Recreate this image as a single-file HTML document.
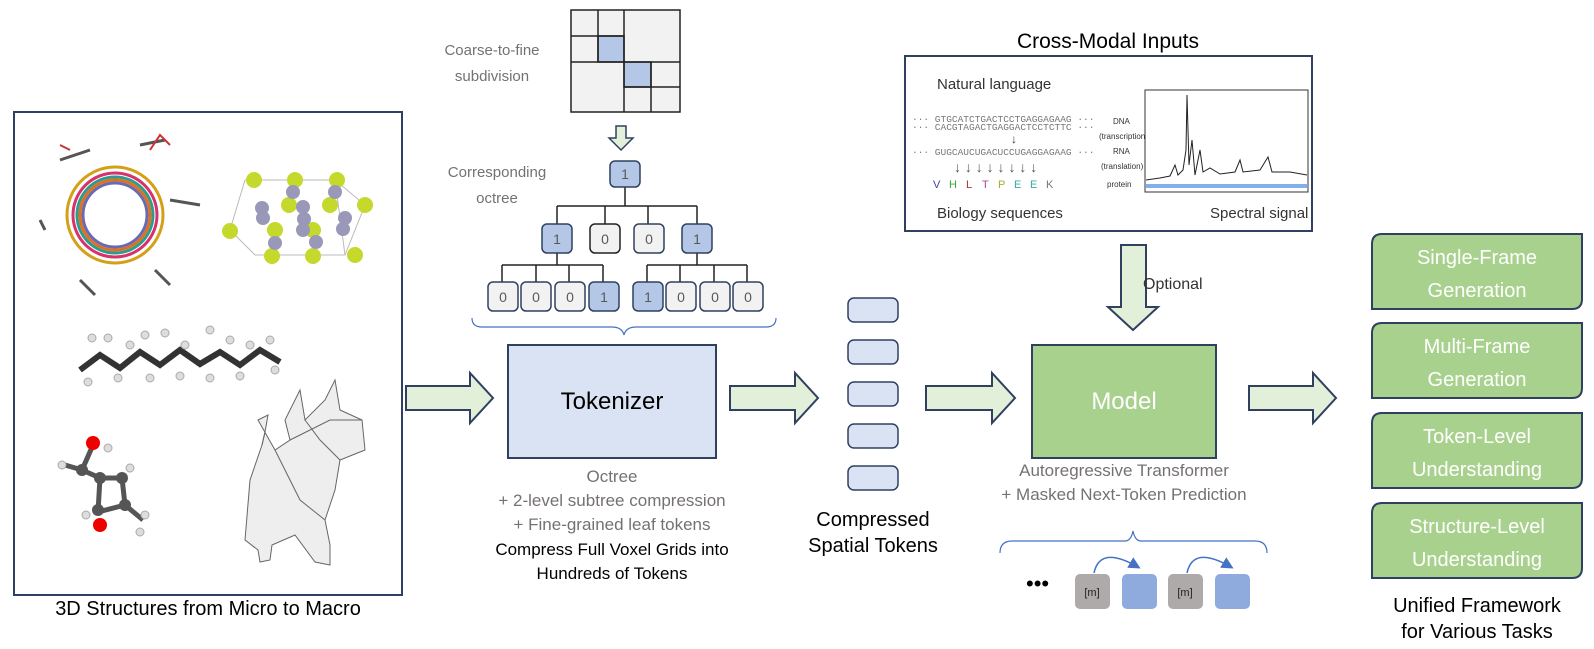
<!DOCTYPE html>
<html><head><meta charset="utf-8"><style>
body{margin:0;background:#fff;}
svg{display:block;font-family:"Liberation Sans",Calibri,sans-serif;}
</style></head><body>
<svg width="1594" height="649" viewBox="0 0 1594 649" xmlns="http://www.w3.org/2000/svg">
<defs>
<marker id="ah" markerWidth="8" markerHeight="8" refX="6" refY="4" orient="auto"><path d="M0,0 L8,4 L0,8 z" fill="#4472c4"/></marker>
</defs>
<!-- left panel -->
<rect x="14" y="112" width="388" height="483" fill="#fff" stroke="#2f4060" stroke-width="2"/>
<g fill="none" stroke-width="3">
<circle cx="115" cy="215" r="48" stroke="#d4a017"/>
<circle cx="115" cy="215" r="42" stroke="#d6336c"/>
<circle cx="115" cy="215" r="38" stroke="#2a9d8f"/>
<circle cx="115" cy="215" r="35" stroke="#e07020"/>
<circle cx="115" cy="215" r="32" stroke="#6a6ab0"/>
<path d="M60 160 L90 150 M140 145 L165 140 M170 200 L200 205 M155 270 L170 285 M80 280 L95 295 M45 230 L40 220" stroke="#555"/>
</g>
<g stroke="#c33" stroke-width="2" fill="none"><path d="M150 150l10-15 10 10"/><path d="M70 150l-10 -5"/></g>
<g stroke="#bbb" fill="none"><path d="M245 180 L335 180 L365 205 L345 255 L255 255 L230 230 Z M245 180 L230 230 M335 180 L345 255"/></g>
<g fill="#c5d92c"><circle cx="254" cy="180" r="8"/><circle cx="295" cy="180" r="8"/><circle cx="337" cy="180" r="8"/><circle cx="365" cy="205" r="8"/><circle cx="230" cy="231" r="8"/><circle cx="289" cy="205" r="8"/><circle cx="330" cy="205" r="8"/><circle cx="275" cy="230" r="8"/><circle cx="313" cy="230" r="8"/><circle cx="272" cy="256" r="8"/><circle cx="313" cy="256" r="8"/><circle cx="355" cy="255" r="8"/></g>
<g fill="#9a98b8"><circle cx="293" cy="192" r="7"/><circle cx="335" cy="192" r="7"/><circle cx="262" cy="208" r="7"/><circle cx="263" cy="218" r="7"/><circle cx="303" cy="207" r="7"/><circle cx="304" cy="219" r="7"/><circle cx="303" cy="230" r="7"/><circle cx="345" cy="218" r="7"/><circle cx="343" cy="229" r="7"/><circle cx="275" cy="243" r="7"/><circle cx="316" cy="242" r="7"/></g>
<polyline points="80,370 100,355 120,368 140,352 160,365 180,350 200,364 220,352 240,365 260,350 280,362" fill="none" stroke="#333" stroke-width="6"/>
<g fill="#ddd" stroke="#aaa"><circle cx="92" cy="338" r="4"/><circle cx="108" cy="338" r="4"/><circle cx="130" cy="345" r="4"/><circle cx="145" cy="335" r="4"/><circle cx="165" cy="333" r="4"/><circle cx="185" cy="345" r="4"/><circle cx="210" cy="330" r="4"/><circle cx="230" cy="340" r="4"/><circle cx="250" cy="345" r="4"/><circle cx="270" cy="340" r="4"/><circle cx="88" cy="382" r="4"/><circle cx="118" cy="378" r="4"/><circle cx="150" cy="378" r="4"/><circle cx="180" cy="376" r="4"/><circle cx="210" cy="378" r="4"/><circle cx="240" cy="376" r="4"/><circle cx="275" cy="370" r="4"/></g>
<g stroke="#555" stroke-width="5" fill="none"><path d="M93 445 L82 470 L100 478 L98 512 L125 505 L122 478 L100 478 M125 505 L143 520 M82 470 L65 465"/></g>
<circle cx="93" cy="443" r="7" fill="#e00"/><circle cx="100" cy="525" r="7" fill="#e00"/>
<g fill="#555"><circle cx="82" cy="470" r="6"/><circle cx="100" cy="478" r="6"/><circle cx="98" cy="510" r="6"/><circle cx="125" cy="505" r="6"/><circle cx="122" cy="478" r="6"/></g>
<g fill="#ddd" stroke="#aaa"><circle cx="108" cy="448" r="4"/><circle cx="62" cy="465" r="4"/><circle cx="130" cy="468" r="4"/><circle cx="145" cy="515" r="4"/><circle cx="140" cy="532" r="4"/><circle cx="86" cy="515" r="4"/></g>
<g fill="#eee" stroke="#666" stroke-width="1"><path d="M258 420 L268 415 L265 432 L262 445 L250 480 L245 540 L258 550 L260 562 L270 560 L272 545 L295 535 L315 562 L330 565 L330 545 L325 520 L335 490 L340 460 L365 450 L362 420 L340 410 L335 380 L325 400 L305 420 L300 390 L285 420 L290 440 L275 450 Z"/><path d="M290 440 L330 420 L362 420 M305 420 L320 440 L340 460 M275 450 L300 500 L325 520 M265 432 L262 445"/></g>
<text x="208" y="615" font-size="20" text-anchor="middle" fill="#000">3D Structures from Micro to Macro</text>
<!-- grid -->
<g stroke="#222" stroke-width="1.5" fill="#f2f2f2">
<rect x="571" y="10" width="109" height="102"/>
<rect x="598" y="36" width="26" height="26" fill="#b4c7e7"/>
<rect x="624" y="62" width="27" height="25" fill="#b4c7e7"/>
</g>
<g stroke="#222" stroke-width="1.5"><path d="M571 36H624M571 62H680M598 10V62M624 10V112M651 62V112M624 87H680"/></g>
<text x="492" y="55" font-size="15" fill="#767171" text-anchor="middle">Coarse-to-fine</text>
<text x="492" y="81" font-size="15" fill="#767171" text-anchor="middle">subdivision</text>
<path d="M616 126 h10 v12 h7 l-12 12 -12 -12 h7 z" fill="#e2f0d9" stroke="#2f4060" stroke-width="1.5"/>
<text x="497" y="177" font-size="15" fill="#767171" text-anchor="middle">Corresponding</text>
<text x="497" y="203" font-size="15" fill="#767171" text-anchor="middle">octree</text>
<g stroke="#222" stroke-width="1.5" fill="none">
<path d="M625 186V206M557 206H697M557 206V226M605 206V226M648 206V226M697 206V226M557 253V265M502 265H603M502 265V284M536 265V284M569 265V284M603 265V284M697 253V265M647 265H747M647 265V284M680 265V284M714 265V284M747 265V284"/>
</g>
<g stroke="#2f4060" stroke-width="1.5" font-size="14">
<rect x="610" y="161" width="30" height="26" rx="5" fill="#b4c7e7"/>
<rect x="542" y="224" width="30" height="29" rx="5" fill="#b4c7e7"/>
<rect x="590" y="224" width="30" height="29" rx="5" fill="#f2f2f2" stroke="#222"/>
<rect x="634" y="224" width="30" height="29" rx="5" fill="#f2f2f2"/>
<rect x="682" y="224" width="30" height="29" rx="5" fill="#b4c7e7"/>
<rect x="488" y="282" width="30" height="29" rx="5" fill="#f2f2f2"/>
<rect x="521" y="282" width="30" height="29" rx="5" fill="#f2f2f2"/>
<rect x="555" y="282" width="30" height="29" rx="5" fill="#f2f2f2"/>
<rect x="589" y="282" width="30" height="29" rx="5" fill="#b4c7e7"/>
<rect x="633" y="282" width="30" height="29" rx="5" fill="#b4c7e7"/>
<rect x="666" y="282" width="30" height="29" rx="5" fill="#f2f2f2"/>
<rect x="700" y="282" width="30" height="29" rx="5" fill="#f2f2f2"/>
<rect x="733" y="282" width="30" height="29" rx="5" fill="#f2f2f2"/>
</g>
<g font-size="14" fill="#595959" text-anchor="middle">
<text x="625" y="179">1</text><text x="557" y="244">1</text><text x="605" y="244">0</text><text x="649" y="244">0</text><text x="697" y="244">1</text>
<text x="503" y="302">0</text><text x="536" y="302">0</text><text x="570" y="302">0</text><text x="604" y="302">1</text><text x="648" y="302">1</text><text x="681" y="302">0</text><text x="715" y="302">0</text><text x="748" y="302">0</text>
</g>
<path d="M472 318 q0 9 10 9 h130 q10 0 12 8 q2 -8 12 -8 h130 q10 0 10 -9" fill="none" stroke="#4472c4" stroke-width="1.2"/>
<rect x="508" y="345" width="208" height="113" fill="#dae3f3" stroke="#2f4060" stroke-width="2"/>
<text x="612" y="409" font-size="24" text-anchor="middle" fill="#000">Tokenizer</text>
<g font-size="17" fill="#767171" text-anchor="middle">
<text x="612" y="482">Octree</text>
<text x="612" y="506">+ 2-level subtree compression</text>
<text x="612" y="530">+ Fine-grained leaf tokens</text>
</g>
<text x="612" y="555" font-size="17" text-anchor="middle" fill="#000">Compress Full Voxel Grids into</text>
<text x="612" y="579" font-size="17" text-anchor="middle" fill="#000">Hundreds of Tokens</text>
<!-- big arrows -->
<g fill="#e2f0d9" stroke="#2f4060" stroke-width="2">
<path d="M406 386 H470 V373 L493 398 L470 423 V410 H406 Z"/>
<path d="M730 386 H795 V373 L818 398 L795 423 V410 H730 Z"/>
<path d="M926 386 H992 V373 L1015 398 L992 423 V410 H926 Z"/>
<path d="M1249 386 H1313 V373 L1336 398 L1313 423 V410 H1249 Z"/>
<path d="M1121 245 H1146 V307 H1158 L1133 330 L1108 307 H1121 Z"/>
</g>
<!-- tokens -->
<g fill="#dae3f3" stroke="#2f4060" stroke-width="1.5">
<rect x="848" y="298" width="50" height="24" rx="6"/><rect x="848" y="340" width="50" height="24" rx="6"/><rect x="848" y="382" width="50" height="24" rx="6"/><rect x="848" y="424" width="50" height="24" rx="6"/><rect x="848" y="466" width="50" height="24" rx="6"/>
</g>
<text x="873" y="526" font-size="20" text-anchor="middle" fill="#000">Compressed</text>
<text x="873" y="552" font-size="20" text-anchor="middle" fill="#000">Spatial Tokens</text>
<!-- cross modal -->
<text x="1108" y="48" font-size="21" text-anchor="middle" fill="#000">Cross-Modal Inputs</text>
<rect x="905" y="56" width="407" height="175" fill="#fff" stroke="#2f4060" stroke-width="2"/>
<text x="937" y="89" font-size="15" fill="#333">Natural language</text>
<g font-family="Liberation Mono,monospace" font-size="9.5" fill="#777">
<text x="912" y="122">··· GTGCATCTGACTCCTGAGGAGAAG ···</text>
<text x="912" y="130">··· CACGTAGACTGAGGACTCCTCTTC ···</text>
<text x="912" y="155">··· GUGCAUCUGACUCCUGAGGAGAAG ···</text>
</g>
<text x="1011" y="143" font-size="12" fill="#333">↓</text>
<g font-size="14" fill="#555"><text x="954" y="172">↓ ↓ ↓ ↓ ↓ ↓ ↓ ↓</text></g>
<g font-size="11"><text x="933" y="188" fill="#4040a0">V</text><text x="949" y="188" fill="#3a3">H</text><text x="966" y="188" fill="#a33">L</text><text x="982" y="188" fill="#a4a">T</text><text x="998" y="188" fill="#aa3">P</text><text x="1014" y="188" fill="#3aa">E</text><text x="1030" y="188" fill="#3aa">E</text><text x="1046" y="188" fill="#777">K</text></g>
<g font-size="8" fill="#333"><text x="1113" y="124">DNA</text><text x="1099" y="139">(transcription)</text><text x="1113" y="154">RNA</text><text x="1101" y="169">(translation)</text><text x="1107" y="187">protein</text></g>
<text x="937" y="218" font-size="15" fill="#333">Biology sequences</text>
<rect x="1145" y="90" width="163" height="102" fill="#fff" stroke="#333" stroke-width="1"/>
<polyline points="1146,180 1160,178 1170,176 1175,165 1178,175 1183,170 1186,150 1187,95 1189,165 1192,140 1195,175 1200,150 1203,172 1210,168 1220,174 1235,172 1240,160 1243,172 1260,170 1268,157 1272,172 1290,172 1307,175" fill="none" stroke="#222" stroke-width="1"/>
<rect x="1146" y="184" width="161" height="4" fill="#4a90e2" opacity="0.7"/>
<text x="1210" y="218" font-size="15" fill="#333">Spectral signal</text>
<text x="1143" y="289" font-size="16" fill="#333">Optional</text>
<!-- model -->
<rect x="1032" y="345" width="184" height="113" fill="#a9d18e" stroke="#2f4060" stroke-width="2"/>
<text x="1124" y="409" font-size="24" text-anchor="middle" fill="#fff">Model</text>
<g font-size="17" fill="#767171" text-anchor="middle"><text x="1124" y="476">Autoregressive Transformer</text><text x="1124" y="500">+ Masked Next-Token Prediction</text></g>
<path d="M1000 553 q0 -12 12 -12 h113 q6 0 8 -10 q2 10 8 10 h114 q12 0 12 12" fill="none" stroke="#4472c4" stroke-width="1.2"/>
<text x="1026" y="591" font-size="22" fill="#000">•••</text>
<rect x="1075" y="574" width="35" height="35" rx="5" fill="#aeaaaa"/>
<rect x="1122" y="574" width="35" height="35" rx="5" fill="#8faadc"/>
<rect x="1168" y="574" width="35" height="35" rx="5" fill="#aeaaaa"/>
<rect x="1215" y="574" width="35" height="35" rx="5" fill="#8faadc"/>
<text x="1092" y="596" font-size="11" text-anchor="middle" fill="#222">[m]</text>
<text x="1185" y="596" font-size="11" text-anchor="middle" fill="#222">[m]</text>
<path d="M1094 573 Q1100 545 1138 567" fill="none" stroke="#4472c4" stroke-width="1.5" marker-end="url(#ah)"/>
<path d="M1187 573 Q1193 545 1231 567" fill="none" stroke="#4472c4" stroke-width="1.5" marker-end="url(#ah)"/>
<!-- outputs -->
<g fill="#a9d18e" stroke="#2f4060" stroke-width="2">
<path d="M1382 234 H1582 V299 Q1582 309 1572 309 H1372 V244 Q1372 234 1382 234 Z"/>
<path d="M1382 323 H1582 V388 Q1582 398 1572 398 H1372 V333 Q1372 323 1382 323 Z"/>
<path d="M1382 413 H1582 V478 Q1582 488 1572 488 H1372 V423 Q1372 413 1382 413 Z"/>
<path d="M1382 503 H1582 V568 Q1582 578 1572 578 H1372 V513 Q1372 503 1382 503 Z"/>
</g>
<g font-size="20" fill="#fff" text-anchor="middle">
<text x="1477" y="264">Single-Frame</text><text x="1477" y="297">Generation</text>
<text x="1477" y="353">Multi-Frame</text><text x="1477" y="386">Generation</text>
<text x="1477" y="443">Token-Level</text><text x="1477" y="476">Understanding</text>
<text x="1477" y="533">Structure-Level</text><text x="1477" y="566">Understanding</text>
</g>
<text x="1477" y="612" font-size="20" text-anchor="middle" fill="#000">Unified Framework</text>
<text x="1477" y="638" font-size="20" text-anchor="middle" fill="#000">for Various Tasks</text>
</svg>
</body></html>
